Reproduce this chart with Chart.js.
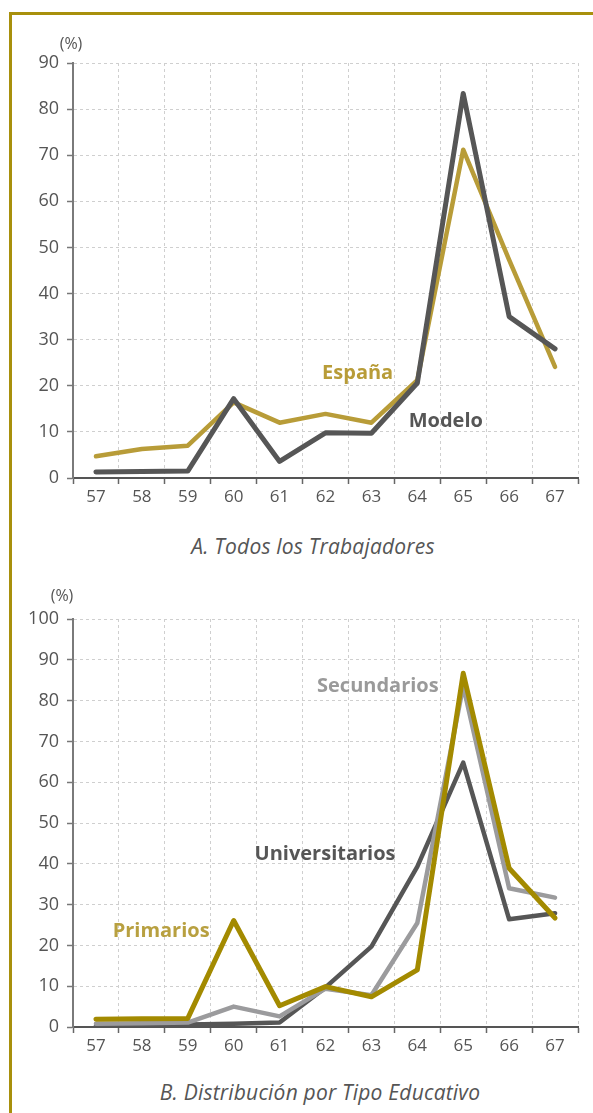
<!DOCTYPE html>
<html>
<head>
<meta charset="utf-8">
<script src="https://cdn.jsdelivr.net/npm/chart.js@4"></script>
<style>
  body { margin: 0; background: #fff; width: 593px; height: 1113px; overflow: hidden; position: relative; font-family: 'Open Sans', sans-serif; }
  .frame { position: absolute; left: 9px; top: 12px; width: 600px; height: 1200px; border-top: 3px solid #a8900c; border-left: 3px solid #a8900c; }
  canvas { position: absolute; left: 0; }
  .unit { position: absolute; font-size: 16px; color: #555; transform: translate(-50%, -50%); line-height: 1; }
  .caption { position: absolute; font-size: 21px; font-style: italic; color: #555; transform: translate(-50%, -50%); white-space: nowrap; letter-spacing: 0.2px; }
</style>
</head>
<body>
<div class="frame"></div>
<canvas id="chartA" width="593" height="520" style="top:0"></canvas>
<canvas id="chartB" width="593" height="515" style="top:560px"></canvas>
<div class="unit" style="left:71px; top:43px">(%)</div>
<div class="unit" style="left:62px; top:595px">(%)</div>
<div class="caption" style="left:313px; top:546px">A. Todos los Trabajadores</div>
<div class="caption" style="left:320px; top:1092px">B. Distribución por Tipo Educativo</div>
<script>
const AGES = ['57', '58', '59', '60', '61', '62', '63', '64', '65', '66', '67'];

// Panel A
const ESPANA = [4.7, 6.3, 7.0, 16.4, 12.0, 13.9, 12.0, 21.2, 71.2, 47.3, 24.1];
const MODELO = [1.3, 1.4, 1.5, 17.2, 3.6, 9.8, 9.7, 20.6, 83.4, 35.0, 28.0];

// Panel B
const PRIMARIOS = [1.9, 2.0, 2.1, 26.1, 5.2, 9.9, 7.4, 14.0, 86.7, 38.9, 26.7];
const SECUNDARIOS = [0.8, 0.9, 1.1, 5.0, 2.6, 9.4, 7.8, 25.5, 83.6, 34.0, 31.7];
const UNIVERSITARIOS = [0.3, 0.4, 0.6, 0.8, 1.1, 9.7, 19.7, 39.3, 64.8, 26.4, 27.9];

const GOLD = '#b89c38';
const OLIVE = '#a38a00';
const DARK = '#565656';
const LIGHT = '#9b9b9d';

// inline series labels: [text, x (category index), y (value), colour]
const LABELS_A = [['España', 5.7, 22.6, GOLD], ['Modelo', 7.62, 12.4, DARK]];
const LABELS_B = [['Secundarios', 6.14, 83.4, '#9a9a9a'], ['Universitarios', 4.99, 42.4, DARK], ['Primarios', 1.42, 23.5, '#b8a040']];

const seriesLabels = {
  id: 'seriesLabels',
  afterDatasetsDraw(chart, args, opts) {
    const ctx = chart.ctx;
    ctx.save();
    ctx.font = 'bold 20px "Open Sans"';
    ctx.textAlign = 'center';
    ctx.textBaseline = 'middle';
    opts.items.forEach(([text, x, y, color]) => {
      ctx.fillStyle = color;
      ctx.fillText(text, chart.scales.x.getPixelForValue(x), chart.scales.y.getPixelForValue(y));
    });
    ctx.restore();
  }
};

const line = (label, data, color, width, order) => ({
  label, data, order,
  borderColor: color,
  borderWidth: width,
  pointRadius: 0,
  tension: 0,
  borderCapStyle: 'round',
  borderJoinStyle: 'round',
  fill: false
});

const buildChart = (el, datasets, yMax, padTop, padBottom, items) => {
  return new Chart(document.getElementById(el), {
    type: 'line',
    data: { labels: AGES, datasets },
    plugins: [seriesLabels],
    options: {
      responsive: false,
      animation: false,
      layout: { padding: { left: 23, right: 15, top: padTop, bottom: padBottom } },
      plugins: {
        legend: { display: false },
        tooltip: { enabled: false },
        seriesLabels: { items }
      },
      scales: {
        x: {
          offset: true,
          afterFit: s => { s.height = 40; },
          grid: { color: '#cfcfcf', offset: true, tickLength: 6, tickColor: '#666', tickWidth: 1.5 },
          border: { color: '#555', width: 2, dash: [3, 3] },
          ticks: { color: '#555', font: { family: 'Open Sans', size: 17 }, padding: 3, maxRotation: 0 }
        },
        y: {
          min: 0, max: yMax,
          afterFit: s => { s.width = 50; },
          grid: { color: '#cfcfcf', tickLength: 6, tickColor: '#777', tickWidth: 1.5 },
          border: { color: '#7a7a7a', width: 2, dash: [3, 3] },
          ticks: { stepSize: 10, color: '#555', font: { family: 'Open Sans', size: 18 }, padding: 8 }
        }
      }
    }
  });
};

buildChart('chartA', [
  line('Modelo', MODELO, DARK, 5, 1),
  line('España', ESPANA, GOLD, 4.5, 2)
], 90, 63, 2, LABELS_A);

buildChart('chartB', [
  line('Primarios', PRIMARIOS, OLIVE, 5, 1),
  line('Secundarios', SECUNDARIOS, LIGHT, 4.5, 2),
  line('Universitarios', UNIVERSITARIOS, DARK, 4.5, 3)
], 100, 59, 8, LABELS_B);
</script>
</body>
</html>
